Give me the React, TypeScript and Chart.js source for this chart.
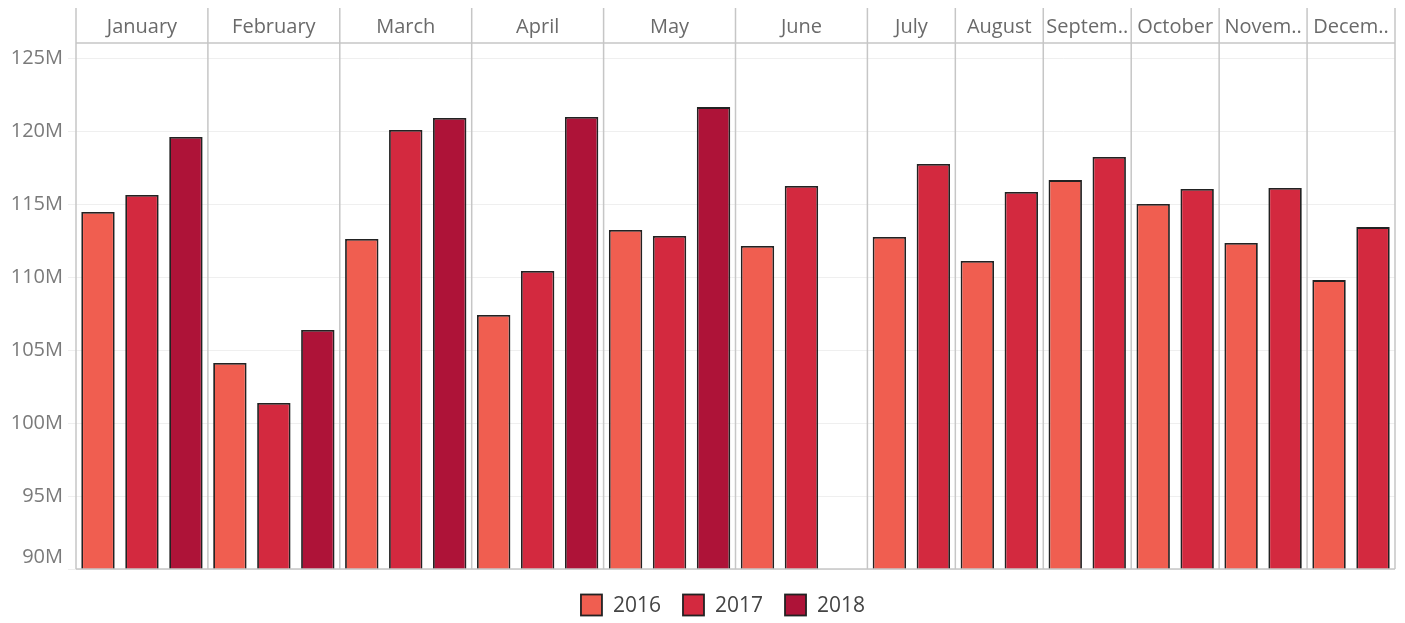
import React, { useEffect, useRef } from "react";
import { Chart, registerables } from "chart.js";

Chart.register(...registerables);

// ---------- data ----------
const months = ["January", "February", "March", "April", "May", "June", "July", "August", "Septem..", "October", "Novem..", "Decem.."];
const years = ["2016", "2017", "2018"];
const values2016 = [114.45, 104.11, 112.6, 107.4, 113.22, 112.12, 112.74, 111.1, 116.64, 115.0, 112.33, 109.79];
const values2017 = [115.62, 101.37, 120.07, 110.41, 112.81, 116.23, 117.74, 115.82, 118.22, 116.03, 116.1, 113.42];
// 2018 covers January..June (June not yet reported)
const values2018: (number | null)[] = [119.59, 106.37, 120.89, 120.96, 121.64, null];
const yearColors = ["#F05E50", "#D3293F", "#AE1338"];
const yTicks = [90, 95, 100, 105, 110, 115, 120, 125];
const yMin = 90;
const yMax = 126.03;

const series: (number | null)[][] = [values2016, values2017, values2018];

// one category slot per (month, year) that exists
const slotLabels: string[] = [];
const slotMonth: number[] = [];
const slotYear: number[] = [];
months.forEach((m, mi) => {
  series.forEach((arr, yi) => {
    if (arr.length > mi) {
      slotLabels.push(`${m} ${years[yi]}`);
      slotMonth.push(mi);
      slotYear.push(yi);
    }
  });
});

const FONT = "'Open Sans', 'Noto Sans', sans-serif";

const decorPlugin = {
  id: "tableauDecor",
  beforeDatasetsDraw(chart: any) {
    const { ctx, chartArea, scales } = chart;
    const x = scales.x;
    const y = scales.y;
    ctx.save();
    // gridlines
    ctx.strokeStyle = "#efefef";
    ctx.lineWidth = 1;
    yTicks.forEach((t) => {
      const py = Math.round(y.getPixelForValue(t)) + 0.5;
      ctx.beginPath();
      ctx.moveTo(68, py);
      ctx.lineTo(chartArea.right, py);
      ctx.stroke();
    });
    // y labels
    ctx.fillStyle = "#7a7a7a";
    ctx.font = `20px ${FONT}`;
    ctx.textAlign = "right";
    ctx.textBaseline = "middle";
    yTicks.forEach((t) => {
      let py = y.getPixelForValue(t);
      if (py > chartArea.bottom - 12) py = chartArea.bottom - 12;
      ctx.fillText(`${t}M`, 63, py);
    });
    // panels
    const slotW = x.width / slotLabels.length;
    const bounds: number[] = [];
    months.forEach((m, mi) => {
      const first = slotMonth.indexOf(mi);
      const last = slotMonth.lastIndexOf(mi);
      const left = x.getPixelForValue(first) - slotW / 2;
      const right = x.getPixelForValue(last) + slotW / 2;
      bounds.push(left);
      ctx.fillStyle = "#6a6a6a";
      ctx.font = `20px ${FONT}`;
      ctx.textAlign = "center";
      ctx.textBaseline = "middle";
      ctx.fillText(m, (left + right) / 2, 27);
      if (mi === months.length - 1) bounds.push(right);
    });
    ctx.strokeStyle = "#c6c6c6";
    ctx.lineWidth = 1.5;
    bounds.forEach((bx) => {
      ctx.beginPath();
      ctx.moveTo(bx, 8);
      ctx.lineTo(bx, chartArea.bottom);
      ctx.stroke();
    });
    ctx.beginPath();
    ctx.moveTo(chartArea.left, chartArea.top);
    ctx.lineTo(chartArea.right, chartArea.top);
    ctx.stroke();
    ctx.restore();
  },
  afterDatasetsDraw(chart: any) {
    const { ctx, chartArea } = chart;
    ctx.save();
    ctx.strokeStyle = "#c6c6c6";
    ctx.lineWidth = 1.5;
    ctx.beginPath();
    ctx.moveTo(chartArea.left, chartArea.bottom);
    ctx.lineTo(chartArea.right, chartArea.bottom);
    ctx.stroke();
    // legend
    ctx.font = `21px ${FONT}`;
    const box = 21;
    const gapText = 11;
    const gapItem = 22;
    const widths = years.map((yr) => box + gapText + ctx.measureText(yr).width);
    const total = widths.reduce((a, b) => a + b, 0) + gapItem * (years.length - 1);
    let lx = 723 - total / 2;
    const cy = 605;
    years.forEach((yr, i) => {
      ctx.fillStyle = yearColors[i];
      ctx.fillRect(lx, cy - box / 2, box, box);
      ctx.strokeStyle = "#222";
      ctx.lineWidth = 1.8;
      ctx.strokeRect(lx, cy - box / 2, box, box);
      ctx.fillStyle = "#444";
      ctx.textAlign = "left";
      ctx.textBaseline = "middle";
      ctx.fillText(yr, lx + box + gapText, cy + 1);
      lx += widths[i] + gapItem;
    });
    ctx.restore();
  },
};

export default function App() {
  const ref = useRef<HTMLCanvasElement | null>(null);
  useEffect(() => {
    if (!ref.current) return;
    const datasets = years.map((yr, yi) => ({
      label: yr,
      data: slotLabels.map((_, si) => (slotYear[si] === yi ? series[yi][slotMonth[si]] : null)),
      backgroundColor: yearColors[yi],
      borderColor: "#222",
      borderWidth: 1.8,
      borderSkipped: false as const,
      grouped: false,
      barPercentage: 0.76,
      categoryPercentage: 1,
    }));
    const chart = new Chart(ref.current, {
      type: "bar",
      data: { labels: slotLabels, datasets },
      options: {
        responsive: false,
        animation: false,
        maintainAspectRatio: false,
        layout: { padding: { left: 76, right: 10, top: 43, bottom: 54 } },
        plugins: { legend: { display: false }, tooltip: { enabled: false } },
        scales: {
          x: { display: false, offset: true, grid: { display: false } },
          y: { display: false, min: yMin, max: yMax },
        },
      },
      plugins: [decorPlugin],
    });
    return () => chart.destroy();
  }, []);
  return (
    <div style={{ position: "absolute", left: 0, top: 0, width: 1405, height: 623, background: "#fff" }}>
      <canvas ref={ref} width={1405} height={623} style={{ display: "block" }} />
    </div>
  );
}
